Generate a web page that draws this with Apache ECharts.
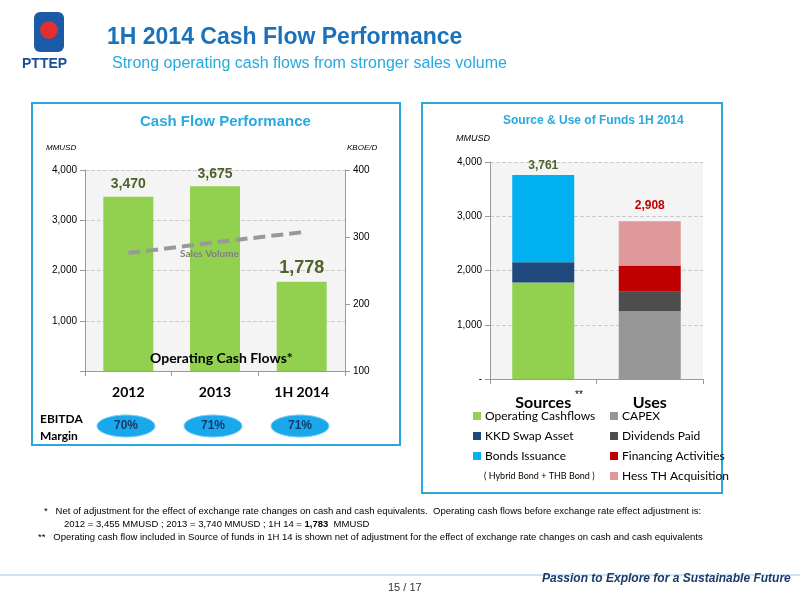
<!DOCTYPE html>
<html><head><meta charset="utf-8">
<script src="https://cdn.jsdelivr.net/npm/echarts@6/dist/echarts.min.js"></script>
<style>body{margin:0;background:#fff}#c{width:800px;height:600px}</style>
</head><body><div id="c"></div>
<script>
var years = ['2012', '2013', '1H 2014'];
var opCash = [3470, 3675, 1778];
var salesVol = [276, 292, 307];
var ebitda = ['70%', '71%', '71%'];
var fundCats = ['Sources', 'Uses'];
var opCashflows = [1778, null];
var kkdSwap = [372, null];
var bonds = [1611, null];
var capex = [null, 1250];
var dividends = [null, 360];
var financing = [null, 480];
var hess = [null, 818];
var fundTotals = ['3,761', '2,908'];

var myChart = echarts.init(document.getElementById('c'));
var F = 'Liberation Sans, Arial';
var C = 'Lato, Open Sans';
function fmt(v){ return v === 0 ? '-' : v.toLocaleString('en-US'); }

var g = [];
// header
g.push({type:'rect',shape:{x:34,y:12,width:30,height:40,r:6},style:{fill:'#1a5aa6'}});
g.push({type:'circle',shape:{cx:49,cy:30,r:9},style:{fill:'#e03030'}});
g.push({type:'text',left:22,top:57,style:{text:'PTTEP',font:'bold 14px '+F,fill:'#1a4f9a'}});
g.push({type:'text',left:107,top:26,style:{text:'1H 2014 Cash Flow Performance',font:'bold 23px '+F,fill:'#1b72bb'}});
g.push({type:'text',left:112,top:56,style:{text:'Strong operating cash flows from stronger sales volume',font:'16px '+F,fill:'#27a9e1'}});
// panels
g.push({type:'rect',shape:{x:32,y:103,width:368,height:342},style:{fill:'none',stroke:'#2aa6df',lineWidth:2}});
g.push({type:'rect',shape:{x:422,y:103,width:300,height:390},style:{fill:'none',stroke:'#2aa6df',lineWidth:2}});
g.push({type:'text',left:140,top:114,style:{text:'Cash Flow Performance',font:'bold 15px '+F,fill:'#27a9e1'}});
g.push({type:'text',left:503,top:115,style:{text:'Source & Use of Funds 1H 2014',font:'bold 12px '+F,fill:'#27a9e1'}});
g.push({type:'text',left:46,top:144,style:{text:'MMUSD',font:'italic 8px '+F,fill:'#000'}});
g.push({type:'text',left:347,top:144,style:{text:'KBOE/D',font:'italic 8px '+F,fill:'#000'}});
g.push({type:'text',left:456,top:134,style:{text:'MMUSD',font:'italic 9px '+F,fill:'#000'}});
g.push({type:'text',left:180,top:249,style:{text:'Sales Volume',font:'bold 10px '+C,fill:'#808080'}});
g.push({type:'text',left:150,top:351,style:{text:'Operating Cash Flows*',font:'bold 14px '+C,fill:'#000'}});
g.push({type:'text',left:40,top:411,style:{text:'EBITDA\nMargin',font:'bold 12px '+C,fill:'#000',lineHeight:17}});
[126, 213, 300].forEach(function(x, i){
  g.push({type:'ellipse',shape:{cx:x,cy:426,rx:29,ry:11},style:{fill:'#19a8ec',stroke:'#7fcff3',lineWidth:1}});
  g.push({type:'text',x:x,y:426,style:{text:ebitda[i],font:'bold 12px '+F,fill:'#1a3a6a',align:'center',verticalAlign:'middle'}});
});
g.push({type:'text',left:575,top:390,style:{text:'**',font:'10px '+F,fill:'#000'}});
// legend
var leg = [
  [473,421,'#92d050','Operating Cashflows'],[473,441,'#1f497d','KKD Swap Asset'],[473,461,'#00b0f0','Bonds Issuance'],
  [610,421,'#969696','CAPEX'],[610,441,'#4d4d4d','Dividends Paid'],[610,461,'#c00000','Financing Activities'],[610,481,'#e0999a','Hess TH Acquisition']
];
leg.forEach(function(l){
  g.push({type:'rect',shape:{x:l[0],y:l[1]-9,width:8,height:8},style:{fill:l[2]}});
  g.push({type:'text',left:l[0]+12,top:l[1]-11,style:{text:l[3],font:'12px '+C,fill:'#000'}});
});
g.push({type:'text',left:484,top:472,style:{text:'( Hybrid Bond + THB Bond )',font:'9px '+C,fill:'#000'}});
// footnotes
g.push({type:'text',left:44,top:506,style:{text:'*   Net of adjustment for the effect of exchange rate changes on cash and cash equivalents.  Operating cash flows before exchange rate effect adjustment is:',font:'9.5px '+F,fill:'#000'}});
g.push({type:'text',left:64,top:519,style:{rich:{a:{font:'9.5px '+F,fill:'#000'},b:{font:'bold 9.5px '+F,fill:'#000'}},text:'{a|2012 = 3,455 MMUSD ; 2013 = 3,740 MMUSD ; 1H 14 = }{b|1,783}{a|  MMUSD}'}});
g.push({type:'text',left:38,top:532,style:{text:'**   Operating cash flow included in Source of funds in 1H 14 is shown net of adjustment for the effect of exchange rate changes on cash and cash equivalents',font:'9.5px '+F,fill:'#000'}});
g.push({type:'text',left:388,top:582,style:{text:'15 / 17',font:'11px '+F,fill:'#333'}});
g.push({type:'line',shape:{x1:0,y1:575,x2:800,y2:575},style:{stroke:'#9bc8e8',lineWidth:1}});
g.push({type:'text',left:542,top:573,style:{text:'Passion to Explore for a Sustainable Future',font:'bold italic 12px '+F,fill:'#1a3a6a'}});
g.forEach(function(e){ e.z = 100; });

function stack(name, data, color){
  return {name:name,type:'bar',stack:'f',xAxisIndex:2,yAxisIndex:2,data:data,barWidth:62,itemStyle:{color:color}};
}

var option = {
  animation:false,
  graphic:g,
  grid:[
    {left:85,top:170,width:260,height:201,show:true,backgroundColor:'#f4f4f4',borderWidth:0},
    {left:490,top:162,width:213,height:217,show:true,backgroundColor:'#f4f4f4',borderWidth:0}
  ],
  xAxis:[
    {type:'category',gridIndex:0,data:years,axisLine:{lineStyle:{color:'#999'}},axisTick:{show:true,lineStyle:{color:'#999'}},
     axisLabel:{margin:14,color:'#000',fontWeight:'bold',fontSize:14,fontFamily:'Lato'}},
    {type:'category',gridIndex:0,data:years,show:false,boundaryGap:true},
    {type:'category',gridIndex:1,data:fundCats,axisLine:{lineStyle:{color:'#999'}},axisTick:{show:true,lineStyle:{color:'#999'}},
     axisLabel:{margin:16,fontWeight:'bold',fontSize:16,fontFamily:'Lato',color:'#000'}}
  ],
  yAxis:[
    {type:'value',gridIndex:0,min:0,max:4000,interval:1000,axisLine:{show:true,lineStyle:{color:'#999'}},axisTick:{show:true},
     axisLabel:{formatter:function(v){return v===0?'':fmt(v);},fontSize:10,color:'#000',fontFamily:'Liberation Sans'},
     splitLine:{lineStyle:{type:'dashed',color:'#ccc'}}},
    {type:'value',gridIndex:0,position:'right',min:100,max:400,interval:100,axisLine:{show:true,lineStyle:{color:'#999'}},axisTick:{show:true},
     axisLabel:{fontSize:10,color:'#000',fontFamily:'Liberation Sans'},splitLine:{show:false}},
    {type:'value',gridIndex:1,min:0,max:4000,interval:1000,axisLine:{show:true,lineStyle:{color:'#999'}},axisTick:{show:true},
     axisLabel:{formatter:fmt,fontSize:10,color:'#000',fontFamily:'Liberation Sans'},splitLine:{lineStyle:{type:'dashed',color:'#ccc'}}}
  ],
  series:[
    {type:'bar',xAxisIndex:0,yAxisIndex:0,data:opCash,barWidth:50,itemStyle:{color:'#92d050'},
     label:{show:true,position:'top',formatter:function(p){return fmt(p.value);},color:'#4f6228',fontWeight:'bold',fontFamily:'Liberation Sans',
       fontSize:14}},
    {type:'line',xAxisIndex:1,yAxisIndex:1,data:salesVol,symbol:'none',lineStyle:{color:'#999',width:4,type:[12,6]}},
    stack('Operating Cashflows',opCashflows,'#92d050'),
    stack('KKD Swap Asset',kkdSwap,'#1f497d'),
    stack('Bonds Issuance',bonds,'#00b0f0'),
    stack('CAPEX',capex,'#969696'),
    stack('Dividends Paid',dividends,'#4d4d4d'),
    stack('Financing Activities',financing,'#c00000'),
    stack('Hess TH Acquisition',hess,'#e0999a')
  ]
};
// totals above stacks
option.series[4].label = {show:true,position:'top',formatter:function(){return fundTotals[0];},color:'#4f6228',fontWeight:'bold',fontSize:12,fontFamily:'Liberation Sans',distance:3};
option.series[8].label = {show:true,position:'top',formatter:function(){return fundTotals[1];},color:'#c00000',fontWeight:'bold',fontSize:12,fontFamily:'Liberation Sans',distance:10};
// bigger label on last bar
option.series[0].data = opCash.map(function(v,i){ return i===2 ? {value:v,label:{fontSize:18}} : v; });
myChart.setOption(option,true);
</script></body></html>
